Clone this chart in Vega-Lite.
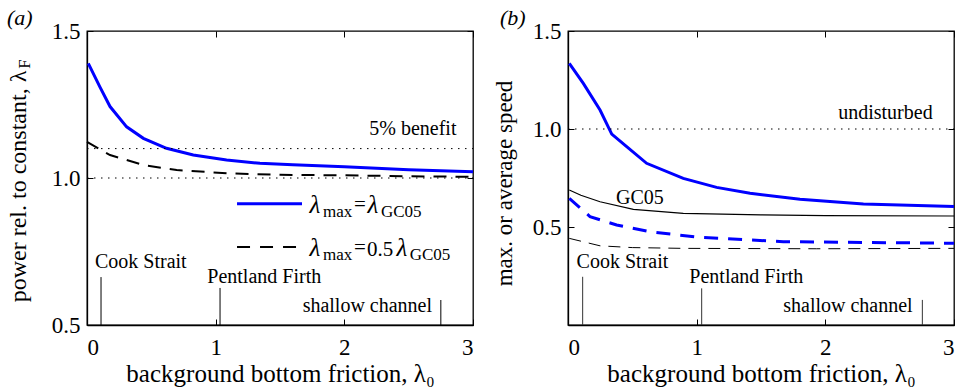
{
  "$schema": "https://vega.github.io/schema/vega-lite/v6.json",
  "background": "white",
  "autosize": {"type": "none"},
  "padding": {"left": 87, "top": 31, "right": 873, "bottom": 359},
  "spacing": 95,
  "bounds": "flush",
  "config": {
    "font": "Liberation Serif",
    "view": {"stroke": "black", "strokeWidth": 1.3},
    "axis": {
      "labelFont": "Liberation Serif", "labelFontSize": 23, "labelColor": "black",
      "titleFont": "Liberation Serif", "titleFontSize": 24, "titleFontWeight": "normal", "titleColor": "black",
      "tickColor": "black", "tickSize": -6, "tickWidth": 1, "domainColor": "black", "domainWidth": 1.3,
      "grid": false
    },
    "axisX": {"titlePadding": 2, "labelPadding": 17, "titleFontSize": 25},
    "axisY": {"titlePadding": 17, "labelPadding": 13},
    "text": {"font": "Liberation Serif", "color": "black"},
    "title": {"font": "Liberation Serif", "fontStyle": "italic", "fontSize": 22, "fontWeight": "normal", "color": "black", "anchor": "start", "frame": "group", "offset": 4}
  },
  "hconcat": [
    {
      "width": 386, "height": 294,
      "title": {"text": "(a)", "dx": -80, "dy": 14},
      "resolve": {"axis": {"x": "independent", "y": "independent"}},
      "layer": [
        {
          "encoding": {
            "x": {"field": "x", "type": "quantitative", "scale": {"domain": [0, 3], "nice": false, "zero": false},
                  "axis": {"values": [0, 1, 2, 3], "format": "d", "title": "background bottom friction, λ₀"}},
            "y": {"field": "y", "type": "quantitative", "scale": {"domain": [0.5, 1.5], "nice": false, "zero": false},
                  "axis": {"values": [0.5, 1, 1.5], "format": ".1f", "title": "power rel. to constant, λ", "titleY": 155, "titlePadding": 21}}
          },
          "layer": [
            {
              "data": {"values": [
                {"x": 0, "y": 1.123}, {"x": 0.179, "y": 1.078}, {"x": 0.438, "y": 1.044}, {"x": 0.697, "y": 1.027},
                {"x": 1.085, "y": 1.016}, {"x": 1.5, "y": 1.011}, {"x": 2, "y": 1.009}, {"x": 2.5, "y": 1.006}, {"x": 3, "y": 1.004}
              ]},
              "mark": {"type": "line", "color": "black", "strokeWidth": 2, "strokeDash": [13, 9]}
            },
            {
              "data": {"values": [
                {"x": 0.01, "y": 1.39}, {"x": 0.1, "y": 1.31}, {"x": 0.179, "y": 1.243}, {"x": 0.308, "y": 1.174},
                {"x": 0.438, "y": 1.135}, {"x": 0.618, "y": 1.101}, {"x": 0.826, "y": 1.078}, {"x": 1.085, "y": 1.061},
                {"x": 1.344, "y": 1.05}, {"x": 1.6, "y": 1.045}, {"x": 2.0, "y": 1.038}, {"x": 2.5, "y": 1.028}, {"x": 3.0, "y": 1.021}
              ]},
              "mark": {"type": "line", "color": "#0000ff", "strokeWidth": 3}
            },
            {
              "data": {"values": [{"x": 1.166, "y": 0.912}, {"x": 1.671, "y": 0.912}]},
              "mark": {"type": "line", "color": "#0000ff", "strokeWidth": 3}
            },
            {
              "data": {"values": [{"x": 1.166, "y": 0.765}, {"x": 1.632, "y": 0.765}]},
              "mark": {"type": "line", "color": "black", "strokeWidth": 2, "strokeDash": [13, 10]}
            },
            {
              "data": {"values": [
                {"x": 0.109, "y": 0.5, "y2": 0.663}, {"x": 1.034, "y": 0.5, "y2": 0.626}, {"x": 2.75, "y": 0.5, "y2": 0.585}
              ]},
              "mark": {"type": "rule", "color": "black", "strokeWidth": 1},
              "encoding": {"y2": {"field": "y2"}}
            },
            {
              "data": {"values": [
                {"x": 0.062, "y": 0.694, "t": "Cook Strait"}, {"x": 0.935, "y": 0.643, "t": "Pentland Firth"},
                {"x": 1.676, "y": 0.544, "t": "shallow channel"}, {"x": 2.194, "y": 1.146, "t": "5% benefit"}
              ]},
              "mark": {"type": "text", "align": "left", "baseline": "alphabetic", "fontSize": 20},
              "encoding": {"text": {"field": "t"}}
            },
            {
              "data": {"values": [
                {"x": 1.73, "y": 0.881, "t": "λ"}, {"x": 2.18, "y": 0.881, "t": "λ"},
                {"x": 1.73, "y": 0.735, "t": "λ"}, {"x": 2.405, "y": 0.735, "t": "λ"}
              ]},
              "mark": {"type": "text", "align": "left", "baseline": "alphabetic", "fontSize": 25, "fontStyle": "italic"},
              "encoding": {"text": {"field": "t"}}
            },
            {
              "data": {"values": [
                {"x": 1.834, "y": 0.867, "t": "max"}, {"x": 2.285, "y": 0.867, "t": "GC05"},
                {"x": 1.834, "y": 0.721, "t": "max"}, {"x": 2.508, "y": 0.721, "t": "GC05"}
              ]},
              "mark": {"type": "text", "align": "left", "baseline": "alphabetic", "fontSize": 17},
              "encoding": {"text": {"field": "t"}}
            },
            {
              "data": {"values": [
                {"x": 2.075, "y": 0.888, "t": "="}, {"x": 2.075, "y": 0.741, "t": "="}, {"x": 2.176, "y": 0.735, "t": "0.5"}
              ]},
              "mark": {"type": "text", "align": "left", "baseline": "alphabetic", "fontSize": 21},
              "encoding": {"text": {"field": "t"}}
            },
            {
              "data": {"values": [{"x": -0.485, "y": 1.388, "t": "F"}]},
              "mark": {"type": "text", "align": "center", "baseline": "middle", "fontSize": 17, "angle": 270},
              "encoding": {"text": {"field": "t"}}
            }
          ]
        },
        {
          "data": {"values": [{"x": 0, "x2": 3, "y": 1.1}, {"x": 0, "x2": 3, "y": 1.0}]},
          "mark": {"type": "rule", "color": "black", "strokeWidth": 1, "strokeDash": [1.5, 5.5]},
          "encoding": {
            "x": {"field": "x", "type": "quantitative",
                  "axis": {"orient": "top", "values": [0, 1, 2, 3], "labels": false, "title": null, "domain": false}},
            "x2": {"field": "x2"},
            "y": {"field": "y", "type": "quantitative",
                  "axis": {"orient": "right", "values": [0.5, 1, 1.5], "labels": false, "title": null, "domain": false}}
          }
        }
      ]
    },
    {
      "width": 386, "height": 294,
      "title": {"text": "(b)", "dx": -68, "dy": 14},
      "resolve": {"axis": {"x": "independent", "y": "independent"}},
      "layer": [
        {
          "encoding": {
            "x": {"field": "x", "type": "quantitative", "scale": {"domain": [0, 3], "nice": false, "zero": false},
                  "axis": {"values": [0, 1, 2, 3], "format": "d", "title": "background bottom friction, λ₀"}},
            "y": {"field": "y", "type": "quantitative", "scale": {"domain": [0, 1.5], "nice": false, "zero": false},
                  "axis": {"values": [0.5, 1, 1.5], "format": ".1f", "title": "max. or average speed", "titleY": 152, "titleFontSize": 23, "titlePadding": 16}}
          },
          "layer": [
            {
              "data": {"values": [
                {"x": 0.01, "y": 0.442}, {"x": 0.249, "y": 0.404}, {"x": 0.5, "y": 0.395}, {"x": 0.896, "y": 0.391},
                {"x": 1.93, "y": 0.389}, {"x": 3, "y": 0.391}
              ]},
              "mark": {"type": "line", "color": "black", "strokeWidth": 1, "strokeDash": [12, 8]}
            },
            {
              "data": {"values": [
                {"x": 0.01, "y": 0.689}, {"x": 0.1, "y": 0.662}, {"x": 0.249, "y": 0.629}, {"x": 0.508, "y": 0.59},
                {"x": 0.896, "y": 0.57}, {"x": 1.5, "y": 0.562}, {"x": 2, "y": 0.558}, {"x": 3, "y": 0.556}
              ]},
              "mark": {"type": "line", "color": "black", "strokeWidth": 1.2}
            },
            {
              "data": {"values": [
                {"x": 0.01, "y": 0.646}, {"x": 0.171, "y": 0.553}, {"x": 0.378, "y": 0.51}, {"x": 0.637, "y": 0.476},
                {"x": 1.026, "y": 0.447}, {"x": 1.673, "y": 0.425}, {"x": 3, "y": 0.417}
              ]},
              "mark": {"type": "line", "color": "#0000ff", "strokeWidth": 3, "strokeDash": [14, 10]}
            },
            {
              "data": {"values": [
                {"x": 0.01, "y": 1.335}, {"x": 0.119, "y": 1.233}, {"x": 0.249, "y": 1.097}, {"x": 0.34, "y": 0.974},
                {"x": 0.456, "y": 0.91}, {"x": 0.611, "y": 0.825}, {"x": 0.896, "y": 0.748}, {"x": 1.155, "y": 0.702},
                {"x": 1.415, "y": 0.672}, {"x": 1.803, "y": 0.641}, {"x": 2.296, "y": 0.617}, {"x": 3, "y": 0.604}
              ]},
              "mark": {"type": "line", "color": "#0000ff", "strokeWidth": 3}
            },
            {
              "data": {"values": [
                {"x": 0.114, "y": 0, "y2": 0.246}, {"x": 1.039, "y": 0, "y2": 0.187}, {"x": 2.754, "y": 0, "y2": 0.128}
              ]},
              "mark": {"type": "rule", "color": "#333333", "strokeWidth": 1},
              "encoding": {"y2": {"field": "y2"}}
            },
            {
              "data": {"values": [
                {"x": 0.067, "y": 0.289, "t": "Cook Strait"}, {"x": 0.943, "y": 0.213, "t": "Pentland Firth"},
                {"x": 1.673, "y": 0.068, "t": "shallow channel"}, {"x": 2.10, "y": 1.051, "t": "undisturbed"},
                {"x": 0.373, "y": 0.617, "t": "GC05"}
              ]},
              "mark": {"type": "text", "align": "left", "baseline": "alphabetic", "fontSize": 20},
              "encoding": {"text": {"field": "t"}}
            }
          ]
        },
        {
          "data": {"values": [{"x": 0, "x2": 3, "y": 1.0}]},
          "mark": {"type": "rule", "color": "black", "strokeWidth": 1, "strokeDash": [1.5, 5.5]},
          "encoding": {
            "x": {"field": "x", "type": "quantitative",
                  "axis": {"orient": "top", "values": [0, 1, 2, 3], "labels": false, "title": null, "domain": false}},
            "x2": {"field": "x2"},
            "y": {"field": "y", "type": "quantitative",
                  "axis": {"orient": "right", "values": [0, 0.5, 1, 1.5], "labels": false, "title": null, "domain": false}}
          }
        }
      ]
    }
  ]
}
